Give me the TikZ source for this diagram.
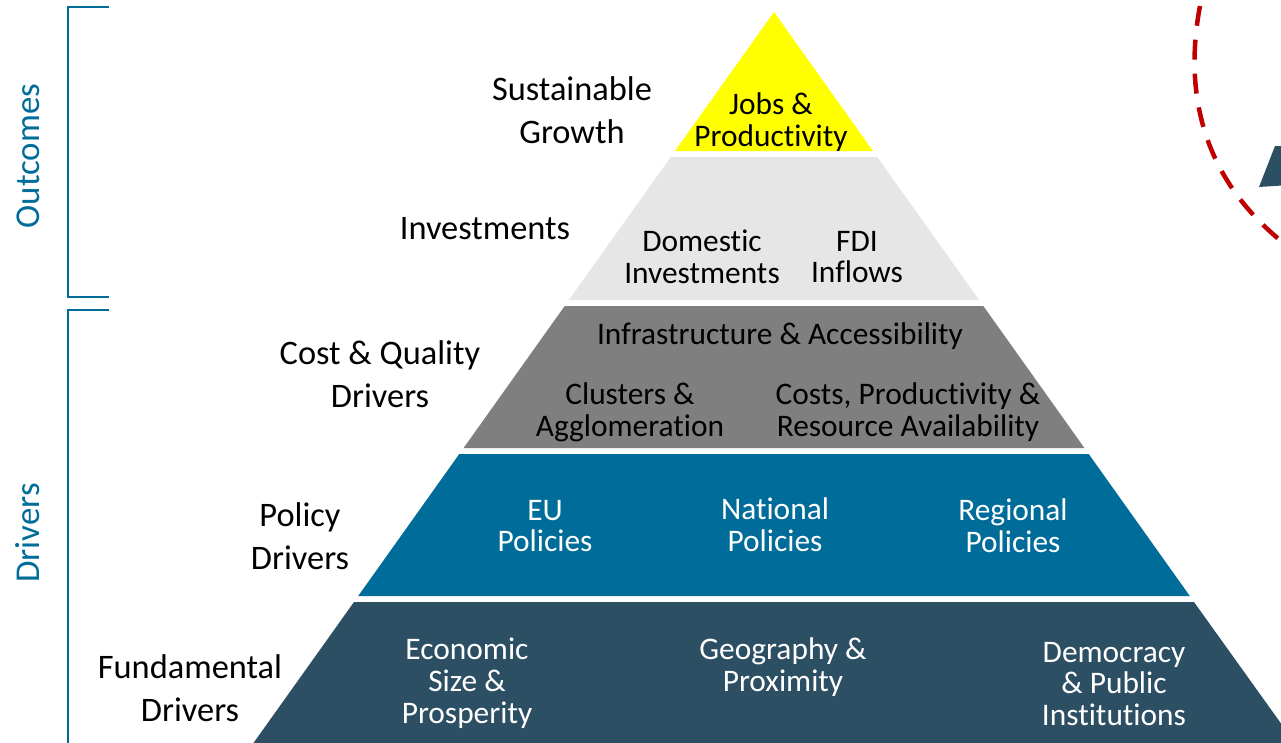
\documentclass[tikz,border=0pt]{standalone}
\usepackage{fontspec}
\setmainfont{Carlito}[Ligatures={NoCommon}]
\definecolor{cyel}{RGB}{255,255,0}
\definecolor{clgray}{RGB}{230,230,230}
\definecolor{cdgray}{RGB}{127,127,127}
\definecolor{cblue}{RGB}{0,108,154}
\definecolor{cnavy}{RGB}{44,79,99}
\definecolor{cred}{RGB}{192,0,0}
\begin{document}
\begin{tikzpicture}[x=1bp,y=-1bp,
  inlbl/.style={align=center,inner sep=0pt,font=\fontsize{31.5}{32}\selectfont},
  sidelbl/.style={align=center,inner sep=0pt,font=\fontsize{34.5}{43}\selectfont},
  grouplbl/.style={inner sep=0pt,text=cblue,rotate=90,font=\fontsize{35}{40}\selectfont},
  bracket/.style={draw=cblue,line width=2bp}]
\clip (0,0) rectangle (1281,743);
\fill[white] (0,0) rectangle (1281,743);
% pyramid layers
\fill[cyel] (774,12) -- (873,151) -- (675,151) -- cycle;
\fill[clgray] (670.8,157) -- (877.2,157) -- (979.1,300) -- (568.9,300) -- cycle;
\fill[cdgray] (564.7,306) -- (983.3,306) -- (1084.4,448) -- (463.6,448) -- cycle;
\fill[cblue] (459.3,454) -- (1088.7,454) -- (1189.8,596) -- (358.2,596) -- cycle;
\fill[cnavy] (354,602) -- (1194,602) -- (1300,750) -- (248.5,750) -- cycle;
% dashed arc and partial arrow
\draw[cred,line width=4.5bp,dash pattern=on 20bp off 14bp] (1200,6) .. controls (1184,90) and (1200,180) .. (1290,248);
\fill[cnavy] (1259,187) -- (1275,146) -- (1290,146) -- (1290,185) -- cycle;
% brackets
\draw[bracket] (109,7) -- (68,7) -- (68,297) -- (109,297);
\draw[bracket] (109,310) -- (68,310) -- (68,760);
\node[grouplbl] (outcomes) at (28,156) {Outcomes};
\node[grouplbl] (drivers) at (28,533) {Drivers};
% side labels
\node[sidelbl] (sg) at (572,110) {Sustainable\\Growth};
\node[sidelbl] (inv) at (485,229) {Investments};
\node[sidelbl] (cq) at (380,374) {Cost \& Quality\\Drivers};
\node[sidelbl] (pd) at (300,536) {Policy\\Drivers};
\node[sidelbl] (fd) at (190,688) {Fundamental\\Drivers};
% inner labels
\node[inlbl] (jobs) at (771,122) {Jobs \&\\Productivity};
\node[inlbl] (dom) at (702,257) {Domestic\\Investments};
\node[inlbl] (fdi) at (857,257) {FDI\\Inflows};
\node[inlbl] (infra) at (780,336) {Infrastructure \& Accessibility};
\node[inlbl] (clus) at (630,412) {Clusters \&\\Agglomeration};
\node[inlbl] (costs) at (908,412) {Costs, Productivity \&\\Resource Availability};
\node[inlbl,text=white] (eu) at (545,526) {EU\\Policies};
\node[inlbl,text=white] (nat) at (775,525) {National\\Policies};
\node[inlbl,text=white] (reg) at (1013,526) {Regional\\Policies};
\node[inlbl,text=white] (eco) at (467,683) {Economic\\Size \&\\Prosperity};
\node[inlbl,text=white] (geo) at (783,667) {Geography \&\\Proximity};
\node[inlbl,text=white] (dem) at (1114,684) {Democracy\\\& Public\\Institutions};
\end{tikzpicture}
\end{document}
